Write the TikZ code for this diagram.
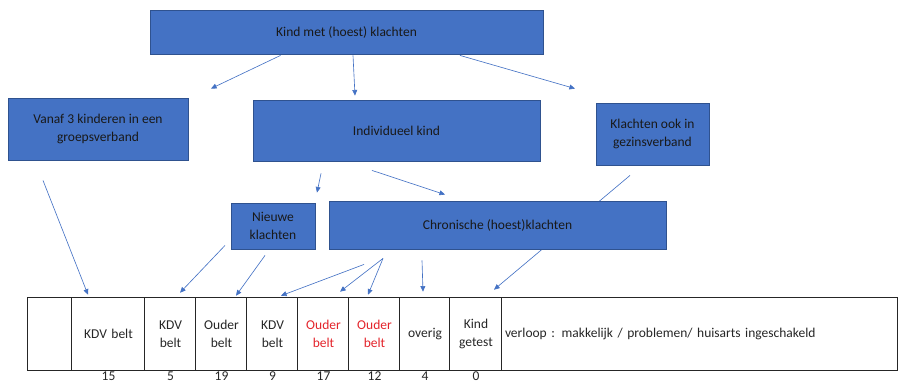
\documentclass[tikz,border=0pt]{standalone}
\usepackage{fontspec}
\setmainfont{Carlito}
\usetikzlibrary{arrows.meta,positioning}

\definecolor{boxblue}{HTML}{4472C4}
\definecolor{boxedge}{HTML}{2F528F}
\definecolor{beltred}{HTML}{E3242B}

\tikzset{
  box/.style={draw=boxedge, fill=boxblue, line width=0.6pt, text=black!90,
    align=center, inner sep=2pt},
  size/.style 2 args={minimum width=#1*0.025cm, minimum height=#2*0.025cm},
  arr/.style={draw=boxblue, line width=0.45pt, -{Triangle[length=4pt,width=3.5pt]}},
  cell/.style={inner xsep=0pt, minimum height=1.8cm, align=center},
  tab/.style={line width=0.9pt, draw=black!85},
}

\begin{document}
\begin{tikzpicture}[x=0.025cm, y=-0.025cm, font=\fontsize{9.6}{12.6}\selectfont]
  % page = 898 x 384 px grid, y runs downwards
  \useasboundingbox (0,0) rectangle (898,384);

  % blue boxes
  \node[box, size={393}{44}] (top) at (346.5,32) {Kind met (hoest) klachten};
  \node[box, size={180}{62}] (vanaf) at (98,129) {Vanaf 3 kinderen in een\\groepsverband};
  \node[box, size={287}{61}] (indiv) at (396.5,130.5) {Individueel kind};
  \node[box, size={113}{62}] (gezin) at (652.5,134) {Klachten ook in\\gezinsverband};
  \node[box, size={84}{46}] (nieuw) at (273,226) {Nieuwe\\klachten};

  % table row
  \foreach \i/\cx/\w/\col/\txt in {0/50/44/black/{},
      1/108.5/73/black!85/{KDV belt}, 2/170.5/51/black!85/{KDV\\belt},
      3/221.5/51/black!85/{Ouder\\belt}, 4/272.5/51/black!85/{KDV\\belt},
      5/323.5/51/beltred/{Ouder\\belt}, 6/374.5/51/beltred/{Ouder\\belt},
      7/425/50/black!85/{overig}, 8/476/52/black!85/{Kind\\getest}} {
    \node[cell, text width=\w*0.025cm, text=\col] (c\i) at (\cx,334) {\txt};
  }
  \node[cell, text width=389*0.025cm, inner xsep=0.075cm, align=left,
    text=black!85] (c9) at (699.5,334)
    {verloop : makkelijk / problemen/ huisarts ingeschakeld};

  \draw[tab] (c0.north west) rectangle (c9.south east);
  \foreach \i in {1,...,9}
    \draw[tab] (c\i.north west) -- (c\i.south west);

  % counts under the columns
  \foreach \i/\num in {1/15,2/5,3/19,4/9,5/17,6/12,7/4,8/0}
    \node[anchor=north, inner ysep=1pt, text=black!85] (n\i) at (c\i.south) {\num};

  % this one runs behind the chronic box
  \draw[arr] (gezin.south) ++(-22.5,10) -- ([shift={(18,-8)}]c8.north);

  \node[box, size={337}{48}] (chron) at (497.5,225) {Chronische (hoest)klachten};

  % arrows
  \draw[arr] (top.south) ++(-66,1) -- ([shift={(113,-9)}]vanaf.north);
  \draw[arr] (top.south) ++(6.5,1) -- ([shift={(-41.5,-4)}]indiv.north);
  \draw[arr] (top.south) ++(113.5,1) -- ([shift={(-77.5,-14)}]gezin.north);
  \draw[arr] (vanaf.south) ++(-55,20) -- ([shift={(-20.5,-3)}]c1.north);
  \draw[arr] (indiv.south) ++(-75.5,12) -- ([shift={(44,-10)}]nieuw.north);
  \draw[arr] (indiv.south) ++(-24.5,9) -- ([shift={(-52.5,-6)}]chron.north);
  \draw[arr] (nieuw.south) ++(-48,-4) -- ([shift={(9.5,-5)}]c2.north);
  \draw[arr] (nieuw.south) ++(-8,6) -- ([shift={(14.5,-2)}]c3.north);
  \draw[arr] (chron.south) ++(-133.5,15) -- ([shift={(8.5,-2)}]c4.north);
  \draw[arr] (chron.south) ++(-114.5,9) -- ([shift={(16.5,-6)}]c5.north);
  \draw[arr] (chron.south) ++(-114.5,9) -- ([shift={(-6.5,-3)}]c6.north);
  \draw[arr] (chron.south) ++(-75.5,11) -- ([shift={(-2,-6)}]c7.north);

\end{tikzpicture}
\end{document}
